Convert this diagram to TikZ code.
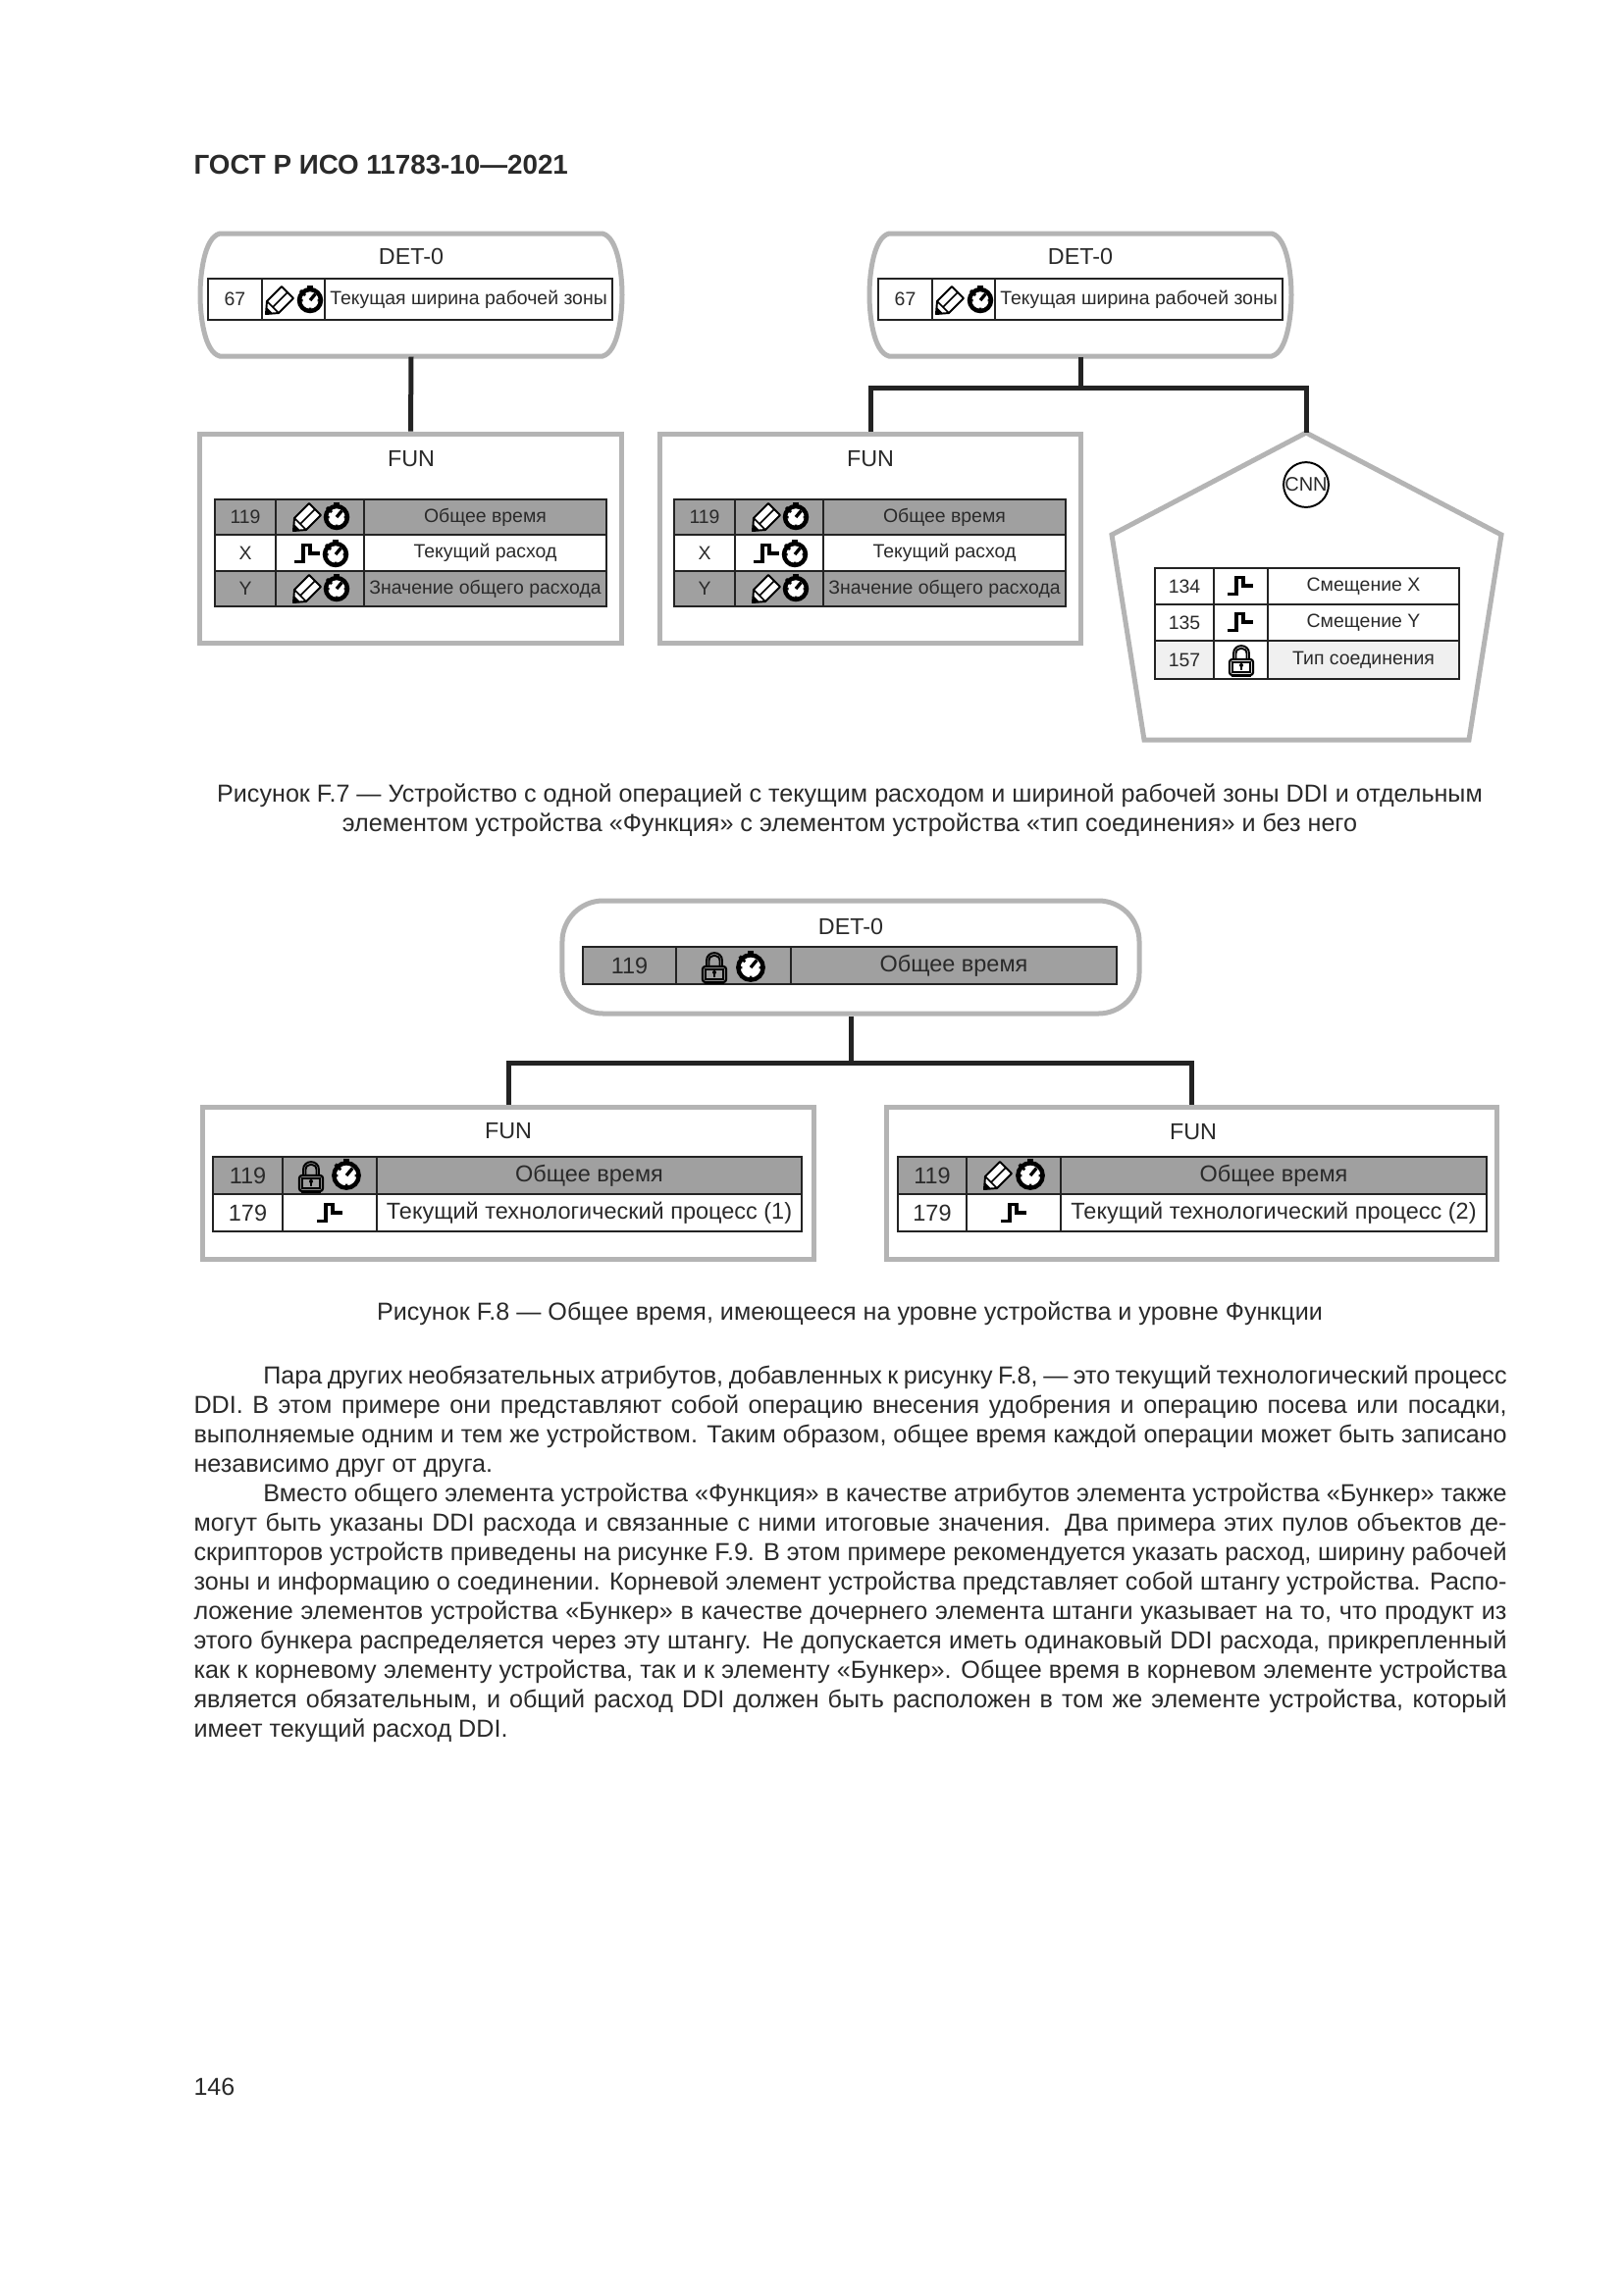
\documentclass[tikz,border=0pt]{standalone}
\usepackage{fontspec}
\setmainfont{Liberation Sans}
\definecolor{edgegray}{HTML}{B4B4B4}
\definecolor{linedark}{HTML}{232323}
\definecolor{shadegray}{HTML}{A0A0A0}
\definecolor{shadetext}{HTML}{4A4A4A}
\definecolor{palegray}{HTML}{F0F0F0}
\definecolor{inktext}{HTML}{2A2A2A}
\newcommand{\SetCols}[4]{\def\cA{#1}\def\cB{#2}\def\cC{#3}\def\cD{#4}}
\newcommand{\TRow}[6]{%
  \path[tcell,#4] (\cA,#2) rectangle (\cB,#3) node[midway] (#1-a) {#5};
  \path[tcell,#4] (\cB,#2) rectangle (\cC,#3) node[midway] (#1-b) {};
  \path[tcell,#4] (\cC,#2) rectangle (\cD,#3) node[midway] (#1-c) {#6};
}
\newcommand{\TFrame}[2]{\draw[tframe] (\cA,#1) rectangle (\cD,#2);}
\tikzset{
  x=0.36pt,y=-0.36pt,
  every node/.style={text=inktext},
  edgebox/.style={draw=edgegray,line width=1.8pt,fill=white,line join=miter},
  conn/.style={draw=linedark,line width=1.8pt,line cap=butt},
  tcell/.style={draw=linedark,line width=0.7pt},
  tframe/.style={draw=linedark,line width=0.9pt},
  shaded/.style={fill=shadegray,text=shadetext},
  plainrow/.style={fill=white,text=inktext},
  palerow/.style={fill=palegray,text=inktext},
  smalltab/.style={nodes={font=\fontsize{7}{8}\selectfont,inner sep=0pt}},
  bigtab/.style={nodes={font=\fontsize{8.45}{9}\selectfont,inner sep=0pt}},
  title/.style={font=\fontsize{8.4}{9}\selectfont,inner sep=0pt},
  pencil/.pic={
    \draw[black,line width=0.7pt,fill=white,line join=round] (-14,14) -- (-13,1) -- (2,-14) -- (14,-2) -- (-1,13) -- cycle;
    \draw[black,line width=0.6pt] (-13,1) -- (-1,13);
    \draw[black,line width=0.6pt] (-7,7) -- (8,-8);
    \fill[black] (-14,14) -- (-13.4,7) -- (-7,13.4) -- cycle;
  },
  stopclock/.pic={
    \fill[black] (-3,-15) rectangle (3,-11);
    \fill[black,rotate=45] (-1.5,-14) rectangle (1.5,-10);
    \draw[black,line width=1.6pt,fill=white] (0,0) circle (11);
    \draw[black,line width=1.2pt] (0,0) -- (5.5,-6.5);
    \draw[black,line width=0.9pt] (0,7.5) -- (0,10) (-10,0) -- (-7.5,0) (7.5,0) -- (10,0) (-6.5,-6.5) -- (-5,-5);
  },
  stepsign/.pic={
    \draw[black,line width=1.1pt,line join=miter] (-13,8.5) -- (-4,8.5) -- (-4,-8.5) -- (3,-8.5) -- (3,0) -- (13,0);
  },
  padlock/.pic={
    \draw[black,line width=0.7pt] (-8,-1) -- (-8,-7) .. controls (-8,-17.5) and (8,-17.5) .. (8,-7) -- (8,-1);
    \draw[black,line width=0.7pt] (-5.5,-1) -- (-5.5,-7) .. controls (-5.5,-14) and (5.5,-14) .. (5.5,-7) -- (5.5,-1);
    \draw[black,line width=0.8pt,rounded corners=1pt] (-12,-1) rectangle (12,15);
    \draw[black,line width=0.6pt] (-9,2) rectangle (9,12);
    \fill[black] (0,5) circle (2);
    \fill[black] (-1,5) rectangle (1,10);
    \draw[black,line width=0.8pt] (-10,16) -- (10,16);
  },
}
\begin{document}
\begin{tikzpicture}
\useasboundingbox[fill=white] (0,0) rectangle (1654,2339);

% page header and number
\node[anchor=base west,inner sep=0pt,font=\fontsize{10}{12}\selectfont\bfseries] (header) at (197,177) {ГОСТ Р ИСО 11783-10—2021};
\node[anchor=base west,inner sep=0pt,font=\fontsize{9}{12}\selectfont] (pagenum) at (197,2135) {146};

% ---------- F.7 left
\node[minimum width=155pt,minimum height=45pt,inner sep=0pt] (det1) at (419,300.5) {};
\draw[edgebox] (224,238) -- (614,238) .. controls (630,242) and (634,280) .. (634,300.5) .. controls (634,321) and (630,359) .. (614,363) -- (224,363) .. controls (208,359) and (204,321) .. (204,300.5) .. controls (204,280) and (208,242) .. (224,238) -- cycle;
\node[title] (det1t) at (419,261) {DET-0};
\begin{scope}[smalltab]
\SetCols{212}{267}{331}{624}
\TRow{r1}{284}{326}{plainrow}{67}{Текущая ширина рабочей зоны}
\TFrame{284}{326}
\end{scope}
\pic at (285,306) {pencil};
\pic at (316,306) {stopclock};

\node[edgebox,minimum width=154.5pt,minimum height=77pt,inner sep=0pt] (fun1) at (418.5,549) {};
\node[title] (fun1t) at (419,468) {FUN};
\begin{scope}[smalltab]
\SetCols{219}{281}{371}{618}
\TRow{r2}{509}{545}{shaded}{119}{Общее время}
\TRow{r3}{545}{582}{plainrow}{X}{Текущий расход}
\TRow{r4}{582}{618}{shaded}{Y}{Значение общего расхода}
\TFrame{509}{618}
\end{scope}
\pic at (313,527) {pencil};
\pic at (343,527) {stopclock};
\pic at (313,564) {stepsign};
\pic at (342,565) {stopclock};
\pic at (313,600) {pencil};
\pic at (343,600) {stopclock};
\draw[conn] (det1.south) -- (fun1.north);

% ---------- F.7 right
\node[minimum width=155pt,minimum height=45pt,inner sep=0pt] (det2) at (1101,300.5) {};
\draw[edgebox] (906,238) -- (1296,238) .. controls (1312,242) and (1316,280) .. (1316,300.5) .. controls (1316,321) and (1312,359) .. (1296,363) -- (906,363) .. controls (890,359) and (886,321) .. (886,300.5) .. controls (886,280) and (890,242) .. (906,238) -- cycle;
\node[title] (det2t) at (1101,261) {DET-0};
\begin{scope}[smalltab]
\SetCols{895}{950}{1014}{1307}
\TRow{r5}{284}{326}{plainrow}{67}{Текущая ширина рабочей зоны}
\TFrame{284}{326}
\end{scope}
\pic at (968,306) {pencil};
\pic at (999,306) {stopclock};

\node[edgebox,minimum width=154.5pt,minimum height=77pt,inner sep=0pt] (fun2) at (887,549) {};
\node[title] (fun2t) at (887,468) {FUN};
\begin{scope}[smalltab]
\SetCols{687}{749}{839}{1086}
\TRow{r6}{509}{545}{shaded}{119}{Общее время}
\TRow{r7}{545}{582}{plainrow}{X}{Текущий расход}
\TRow{r8}{582}{618}{shaded}{Y}{Значение общего расхода}
\TFrame{509}{618}
\end{scope}
\pic at (781,527) {pencil};
\pic at (811,527) {stopclock};
\pic at (781,564) {stepsign};
\pic at (810,565) {stopclock};
\pic at (781,600) {pencil};
\pic at (811,600) {stopclock};

\coordinate (penttop) at (1331,441);
\draw[edgebox] (penttop) -- (1530,545) -- (1497,754) -- (1166,754) -- (1133,545) -- cycle;
\node[draw=black,line width=0.7pt,circle,minimum size=16.5pt,inner sep=0pt,font=\fontsize{7.2}{8}\selectfont] (cnn) at (1331,494) {CNN};
\begin{scope}[smalltab]
\SetCols{1177}{1237}{1292}{1487}
\TRow{r9}{579}{616}{plainrow}{134}{Смещение X}
\TRow{r10}{616}{653}{plainrow}{135}{Смещение Y}
\TRow{r11}{653}{692}{palerow}{157}{Тип соединения}
\TFrame{579}{692}
\end{scope}
\draw[tcell,fill=white] (1237,653) rectangle (1292,692);
\pic at (1264,597) {stepsign};
\pic at (1264,634) {stepsign};
\pic at (1265,673) {padlock};

\coordinate (junc1) at (1101,395);
\draw[conn] (det2.south) -- (junc1);
\draw[conn] (fun2.north) |- (junc1) -| (penttop);

% caption F.7
\node[align=center,inner sep=0pt,font=\fontsize{9.05}{10.8}\selectfont] (capa) at (866,826) {Рисунок F.7 — Устройство с одной операцией с текущим расходом и шириной рабочей зоны DDI и отдельным\\элементом устройства «Функция» с элементом устройства «тип соединения» и без него};

% ---------- F.8
\node[edgebox,rounded corners=15pt,minimum width=211.7pt,minimum height=41.4pt,inner sep=0pt] (det3) at (867,975.5) {};
\node[title] (det3t) at (867,944) {DET-0};
\begin{scope}[bigtab]
\SetCols{594}{689}{806}{1138}
\TRow{r12}{965}{1003}{shaded}{119}{Общее время}
\TFrame{965}{1003}
\end{scope}
\pic at (728,986) {padlock};
\pic[scale=1.15] at (765,986) {stopclock};

\node[edgebox,minimum width=224.6pt,minimum height=55.8pt,inner sep=0pt] (fun3) at (518,1205.5) {};
\node[title] (fun3t) at (518,1153) {FUN};
\begin{scope}[bigtab]
\SetCols{217}{288}{384}{817}
\TRow{r13}{1179}{1217}{shaded}{119}{Общее время}
\TRow{r14}{1217}{1255}{plainrow}{179}{Текущий технологический процесс (1)}
\TFrame{1179}{1255}
\end{scope}
\pic at (317,1199) {padlock};
\pic[scale=1.15] at (353,1198) {stopclock};
\pic at (336,1236) {stepsign};

\node[edgebox,minimum width=223.6pt,minimum height=55.8pt,inner sep=0pt] (fun4) at (1214.5,1205.5) {};
\node[title] (fun4t) at (1216,1154) {FUN};
\begin{scope}[bigtab]
\SetCols{915}{985}{1081}{1515}
\TRow{r15}{1179}{1217}{shaded}{119}{Общее время}
\TRow{r16}{1217}{1255}{plainrow}{179}{Текущий технологический процесс (2)}
\TFrame{1179}{1255}
\end{scope}
\pic at (1017,1198) {pencil};
\pic[scale=1.15] at (1050,1198) {stopclock};
\pic at (1033,1236) {stepsign};

\coordinate (junc2) at (867,1083);
\draw[conn] (det3.south) -- (junc2);
\draw[conn] (fun3.north) |- (junc2) -| (fun4.north);

% caption F.8
\node[inner sep=0pt,font=\fontsize{9.05}{10.8}\selectfont] (capb) at (866,1339) {Рисунок F.8 — Общее время, имеющееся на уровне устройства и уровне Функции};

% body text
\node[anchor=north west,inner sep=0pt,text width=481.7pt,align=justify,font=\fontsize{9.05}{10.8}\selectfont] (body) at (197,1391) {%
\hspace*{25.5pt}Пара других необязательных атрибутов, добавленных к рисунку F.8, — это текущий технологический процесс\linebreak
DDI. В этом примере они представляют собой операцию внесения удобрения и операцию посева или посадки,\linebreak
выполняемые одним и тем же устройством. Таким образом, общее время каждой операции может быть записано\linebreak
независимо друг от друга.\par
\hspace*{25.5pt}Вместо общего элемента устройства «Функция» в качестве атрибутов элемента устройства «Бункер» также\linebreak
могут быть указаны DDI расхода и связанные с ними итоговые значения. Два примера этих пулов объектов де-\linebreak
скрипторов устройств приведены на рисунке F.9. В этом примере рекомендуется указать расход, ширину рабочей\linebreak
зоны и информацию о соединении. Корневой элемент устройства представляет собой штангу устройства. Распо-\linebreak
ложение элементов устройства «Бункер» в качестве дочернего элемента штанги указывает на то, что продукт из\linebreak
этого бункера распределяется через эту штангу. Не допускается иметь одинаковый DDI расхода, прикрепленный\linebreak
как к корневому элементу устройства, так и к элементу «Бункер». Общее время в корневом элементе устройства\linebreak
является обязательным, и общий расход DDI должен быть расположен в том же элементе устройства, который\linebreak
имеет текущий расход DDI.};
\end{tikzpicture}
\end{document}
